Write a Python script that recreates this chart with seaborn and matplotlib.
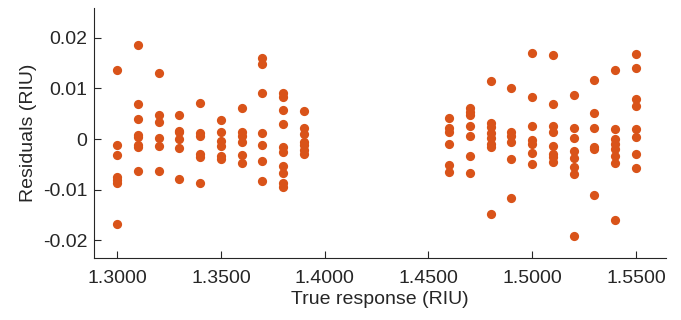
import seaborn as sns
import matplotlib.pyplot as plt
import matplotlib.ticker as mticker
import pandas as pd

# true refractive index levels (RIU)
levels = [1.30, 1.31, 1.32, 1.33, 1.34, 1.35, 1.36, 1.37, 1.38, 1.39,
          1.46, 1.47, 1.48, 1.49, 1.50, 1.51, 1.52, 1.53, 1.54, 1.55]

# residuals read per level
residuals = [
    [0.0137, -0.0011, -0.0032, -0.0075, -0.0081, -0.0087, -0.0168],
    [0.0187, 0.0069, 0.0040, 0.0007, 0.0003, -0.0012, -0.0016, -0.0063],
    [0.0130, 0.0047, 0.0034, 0.0001, -0.0014, -0.0064],
    [0.0047, 0.0016, 0.0013, 0.0000, -0.0017, -0.0079],
    [0.0071, 0.0011, 0.0005, -0.0029, -0.0035, -0.0087],
    [0.0037, 0.0013, -0.0003, -0.0014, -0.0033, -0.0040],
    [0.0061, 0.0014, 0.0005, -0.0006, -0.0032, -0.0048],
    [0.0160, 0.0148, 0.0091, 0.0011, -0.0012, -0.0043, -0.0083],
    [0.0091, 0.0083, 0.0057, 0.0029, -0.0015, -0.0025, -0.0053, -0.0068, -0.0088, -0.0096],
    [0.0055, 0.0021, 0.0010, -0.0005, -0.0012, -0.0022, -0.0030],
    [0.0042, 0.0021, 0.0013, -0.0009, -0.0052, -0.0065],
    [0.0061, 0.0054, 0.0048, 0.0026, 0.0006, -0.0034, -0.0067],
    [0.0114, 0.0031, 0.0024, 0.0011, 0.0001, -0.0009, -0.0015, -0.0149],
    [0.0100, 0.0013, 0.0005, -0.0005, -0.0040, -0.0116],
    [0.0170, 0.0083, 0.0025, -0.0002, -0.0009, -0.0027, -0.0050],
    [0.0167, 0.0070, 0.0026, 0.0013, -0.0013, -0.0030, -0.0035, -0.0045],
    [0.0087, 0.0021, 0.0002, -0.0024, -0.0037, -0.0055, -0.0069, -0.0192],
    [0.0117, 0.0052, 0.0021, -0.0015, -0.0020, -0.0111],
    [0.0137, 0.0020, 0.0000, -0.0009, -0.0020, -0.0033, -0.0047, -0.0160],
    [0.0168, 0.0141, 0.0079, 0.0066, 0.0019, 0.0003, -0.0030, -0.0057],
]

x_ticks = [1.30, 1.35, 1.40, 1.45, 1.50, 1.55]
y_ticks = [-0.02, -0.01, 0, 0.01, 0.02]

rows = [(lv, r) for lv, rs in zip(levels, residuals) for r in rs]
df = pd.DataFrame(rows, columns=["true", "resid"])

sns.set_style("white")
plt.rcParams["font.family"] = ["Liberation Sans", "DejaVu Sans"]

fig = plt.figure(figsize=(6.81, 3.2), dpi=100)
ax = fig.add_axes([0.1385, 0.1947, 0.8395, 0.7813])

sns.scatterplot(data=df, x="true", y="resid", ax=ax, color="#D95319",
                s=44, linewidth=0, alpha=1, legend=False)

ax.set_xlim(1.289, 1.5645)
ax.set_ylim(-0.0235, 0.026)
ax.set_xticks(x_ticks)
ax.set_yticks(y_ticks)
ax.xaxis.set_major_formatter(mticker.FormatStrFormatter("%.4f"))
ax.yaxis.set_major_formatter(mticker.FuncFormatter(lambda v, p: "0" if abs(v) < 1e-9 else f"{v:.2f}"))

ax.set_xlabel("True response (RIU)", fontsize=14, color="#262626", labelpad=3)
ax.set_ylabel("Residuals (RIU)", fontsize=14, color="#262626")
ax.tick_params(direction="in", length=5, width=0.8, labelsize=14,
               colors="#262626", bottom=True, left=True)
ax.tick_params(axis="x", pad=9)
ax.tick_params(axis="y", pad=5)
for side in ["top", "right"]:
    ax.spines[side].set_visible(False)
for side in ["left", "bottom"]:
    ax.spines[side].set_color("#262626")
    ax.spines[side].set_linewidth(0.8)

fig.savefig("out.png", dpi=100)
